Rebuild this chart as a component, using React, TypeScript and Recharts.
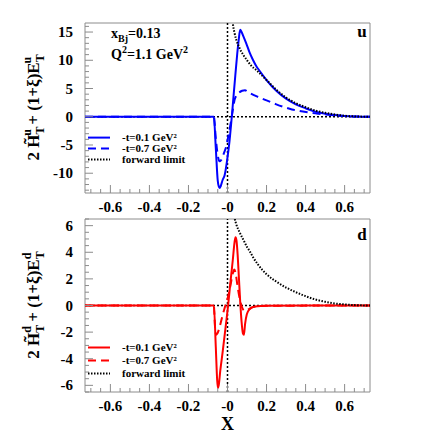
import React from 'react';
import {
  LineChart, Line, XAxis, YAxis, ReferenceLine, ReferenceArea, Legend, Customized, Label,
} from 'recharts';

const SERIF = "'Liberation Serif', 'Times New Roman', serif";
const FRAME = '#8c8c8c';
const X_MIN = -0.73;
const X_MAX = 0.73;

// x axis ticks
const xMajor = [-0.6, -0.4, -0.2, 0, 0.2, 0.4, 0.6];
const xLabels = ['-0.6', '-0.4', '-0.2', '-0', '0.2', '0.4', '0.6'];

// u quark, -t = 0.1 GeV^2
const uSolidX = [-0.73, -0.07, -0.06, -0.05, -0.045, -0.04, -0.035, -0.025, -0.015, -0.002, 0.01, 0.022, 0.032, 0.04, 0.05, 0.058, 0.065, 0.072, 0.082, 0.096, 0.113, 0.13, 0.147, 0.165, 0.2, 0.25, 0.3, 0.35, 0.4, 0.45, 0.5, 0.55, 0.6, 0.65, 0.73];
const uSolidY = [0, 0, -5.5, -11.3, -12.3, -12.6, -12.3, -11.2, -10.4, -7.7, -4.4, 0, 4.1, 7.3, 11.2, 13.8, 15.4, 15.0, 14.2, 13.0, 11.4, 10.1, 9.0, 8.1, 6.5, 4.6, 3.2, 2.2, 1.5, 0.9, 0.55, 0.3, 0.12, 0.04, 0];
// u quark, -t = 0.7 GeV^2
const uDashX = [-0.73, -0.07, -0.06, -0.05, -0.041, -0.033, -0.02, -0.007, 0.005, 0.019, 0.03, 0.036, 0.045, 0.06, 0.075, 0.09, 0.1, 0.12, 0.15, 0.2, 0.25, 0.285, 0.33, 0.37, 0.41, 0.455, 0.5, 0.55, 0.6, 0.65, 0.73];
const uDashY = [0, 0, -3.8, -6.8, -7.9, -7.7, -6.6, -5.3, -3.3, -0.6, 1.8, 2.95, 3.7, 4.3, 4.6, 4.7, 4.5, 4.1, 3.6, 2.9, 2.2, 1.77, 1.3, 1.0, 0.78, 0.58, 0.4, 0.25, 0.12, 0.05, 0];
// u quark, forward limit
const uFwdX = [0.018, 0.027, 0.035, 0.045, 0.055, 0.065, 0.08, 0.1, 0.12, 0.15, 0.2, 0.25, 0.3, 0.35, 0.4, 0.45, 0.5, 0.55, 0.6, 0.65, 0.73];
const uFwdY = [19, 16.5, 15.0, 13.6, 12.7, 11.9, 11.0, 10.0, 9.1, 8.2, 6.5, 4.8, 3.4, 2.4, 1.7, 1.1, 0.7, 0.4, 0.18, 0.06, 0];

// d quark, -t = 0.1 GeV^2
const dSolidX = [-0.73, -0.07, -0.06, -0.053, -0.049, -0.045, -0.037, -0.024, -0.01, 0.002, 0.014, 0.027, 0.036, 0.041, 0.046, 0.052, 0.058, 0.065, 0.072, 0.079, 0.084, 0.09, 0.099, 0.113, 0.14, 0.2, 0.73];
const dSolidY = [0, 0, -3.1, -5.6, -6.2, -6.0, -4.9, -3.4, -1.66, -0.15, 1.6, 3.4, 4.75, 5.13, 4.9, 3.8, 2.2, 0.3, -1.2, -2.1, -2.2, -1.4, -0.66, -0.28, -0.08, -0.02, 0];
// d quark, -t = 0.7 GeV^2
const dDashX = [-0.73, -0.07, -0.064, -0.058, -0.052, -0.041, -0.028, -0.015, 0, 0.015, 0.027, 0.035, 0.042, 0.05, 0.06, 0.07, 0.08, 0.09, 0.1, 0.12, 0.15, 0.2, 0.73];
const dDashY = [0, 0, -1.6, -2.2, -2.1, -1.66, -0.9, -0.2, 0.5, 1.5, 2.4, 2.7, 2.4, 1.6, 0.7, 0.05, -0.3, -0.4, -0.35, -0.18, -0.07, -0.02, 0];
// d quark, forward limit
const dFwdX = [0.028, 0.036, 0.045, 0.062, 0.079, 0.1, 0.113, 0.13, 0.155, 0.2, 0.25, 0.3, 0.35, 0.4, 0.45, 0.5, 0.55, 0.6, 0.65, 0.73];
const dFwdY = [7.4, 6.6, 6.1, 5.5, 5.0, 4.4, 4.1, 3.65, 3.1, 2.35, 1.8, 1.35, 1.0, 0.7, 0.45, 0.28, 0.15, 0.08, 0.03, 0];

const uMajor = [-10, -5, 0, 5, 10, 15];
const dMajor = [-6, -4, -2, 0, 2, 4, 6];

const zip = (xs: number[], ys: number[]) => xs.map((x, i) => ({ x, y: ys[i] }));
const steps = (from: number, to: number, step: number) => {
  const out: number[] = [];
  for (let v = from; v <= to + 1e-9; v += step) out.push(Math.round(v * 100) / 100);
  return out;
};

const xTicks = steps(-0.7, 0.7, 0.05);

// tick marks point into the plot, ROOT style; labels only on the majors
const makeXTick = (axisY: number) => (props: any) => {
  const { x, payload } = props;
  const v = Math.round(payload.value * 100) / 100;
  const i = xMajor.indexOf(v);
  return (
    <g>
      <line x1={x} x2={x} y1={axisY} y2={axisY - (i >= 0 ? 8 : 4)} stroke={FRAME} />
      {i >= 0 && (
        <text x={x} y={axisY + 19} textAnchor="middle" fontFamily={SERIF} fontWeight="bold" fontSize={15} fill="#000">
          {xLabels[i]}
        </text>
      )}
    </g>
  );
};

const makeYTick = (majors: number[]) => (props: any) => {
  const { y, payload } = props;
  const v = Math.round(payload.value * 100) / 100;
  const major = majors.includes(v);
  return (
    <g>
      <line x1={85} x2={85 + (major ? 8 : 4)} y1={y} y2={y} stroke={FRAME} />
      {major && (
        <text x={73} y={y + 5} textAnchor="end" fontFamily={SERIF} fontWeight="bold" fontSize={15} fill="#000">
          {v}
        </text>
      )}
    </g>
  );
};

const makeLegend = (rowH: number, textLeft: number) => (props: any) => {
  const items = props.payload ?? [];
  return (
    <div style={{ fontFamily: SERIF, fontWeight: 'bold', fontSize: 11, color: '#000' }}>
      {items.map((it: any) => (
        <div key={it.value} style={{ display: 'flex', alignItems: 'center', height: rowH }}>
          <svg width={textLeft} height={rowH} style={{ flex: 'none' }}>
            <line x1={0} x2={22} y1={rowH / 2} y2={rowH / 2} stroke={it.color}
              strokeWidth={2} strokeDasharray={it.payload?.strokeDasharray} />
          </svg>
          <span style={{ whiteSpace: 'nowrap' }}>{it.value}</span>
        </div>
      ))}
    </div>
  );
};

const YTitle = ({ cx, cy, q }: { cx: number; cy: number; q: string }) => (
  <text x={cx} y={cy} transform={`rotate(-90 ${cx} ${cy})`} textAnchor="middle"
    fontFamily={SERIF} fontWeight="bold" fontSize={17} fill="#000">
    <tspan>2 H&#771;</tspan>
    <tspan fontSize={12} dy={5}>T</tspan>
    <tspan fontSize={12} dx={-8} dy={-13}>{q}</tspan>
    <tspan dy={8}> + (1+ξ)E</tspan>
    <tspan fontSize={12} dy={5}>T</tspan>
    <tspan fontSize={12} dx={-8} dy={-13}>{q}</tspan>
  </text>
);

interface PanelProps {
  solid: { x: number; y: number }[];
  dashed: { x: number; y: number }[];
  forward: { x: number; y: number }[];
  color: string;
  yDomain: [number, number];
  yMajor: number[];
  yMinorStep: number;
  flavor: string;
  height: number;
  marginTop: number;
  xAxisHeight: number;
  legendTop: number;
  legendRow: number;
  titleY: number;
  flavorY: number;
  showX?: boolean;
  extra?: React.ReactNode;
}

function Panel(p: PanelProps) {
  const yTicks = steps(Math.ceil(p.yDomain[0] / p.yMinorStep) * p.yMinorStep, p.yDomain[1], p.yMinorStep);
  const axisY = p.height - p.xAxisHeight;
  const XTick = makeXTick(axisY);
  return (
    <LineChart width={436} height={p.height} margin={{ top: p.marginTop, right: 66, left: 0, bottom: 0 }}>
      <XAxis dataKey="x" type="number" domain={[X_MIN, X_MAX]} allowDataOverflow ticks={xTicks}
        interval={0} tickSize={0} tickMargin={0} tickLine={false} axisLine={false}
        height={p.xAxisHeight} tick={<XTick />}>
        {p.showX && (
          <Label value="X" position="insideBottom" offset={6} fontSize={18} fontWeight="bold"
            fontFamily={SERIF} fill="#000" />
        )}
      </XAxis>
      <YAxis dataKey="y" type="number" domain={p.yDomain} allowDataOverflow ticks={yTicks}
        interval={0} tickSize={0} tickMargin={0} tickLine={false} axisLine={false}
        width={85} tick={makeYTick(p.yMajor)} />
      <ReferenceArea x1={X_MIN} x2={X_MAX} y1={p.yDomain[0]} y2={p.yDomain[1]}
        fill="none" stroke={FRAME} strokeWidth={1} />
      <ReferenceLine y={0} stroke="#000" strokeWidth={1.5} strokeDasharray="2 2" />
      <ReferenceLine x={0} stroke="#000" strokeWidth={1.5} strokeDasharray="2 2" />
      <Line data={p.solid} dataKey="y" name="-t=0.1 GeV²" type="monotone" stroke={p.color}
        strokeWidth={2} dot={false} isAnimationActive={false} />
      <Line data={p.dashed} dataKey="y" name="-t=0.7 GeV²" type="monotone" stroke={p.color}
        strokeWidth={2} strokeDasharray="8 5" dot={false} isAnimationActive={false} />
      <Line data={p.forward} dataKey="y" name="forward limit" type="monotone" stroke="#000"
        strokeWidth={2} strokeDasharray="1.5 1.5" dot={false} isAnimationActive={false} />
      <Legend layout="vertical" align="center" verticalAlign="middle"
        wrapperStyle={{ top: p.legendTop, left: 88, width: 170 }}
        content={makeLegend(p.legendRow, 34)} />
      <Customized component={() => (
        <g>
          <YTitle cx={39} cy={p.titleY} q={p.flavor} />
          <text x={362} y={p.flavorY} textAnchor="middle" fontFamily={SERIF} fontWeight="bold"
            fontSize={17} fill="#000">{p.flavor}</text>
          {p.extra}
        </g>
      )} />
    </LineChart>
  );
}

const kinematics = (
  <g fontFamily={SERIF} fontWeight="bold" fill="#000">
    <text x={111} y={38} fontSize={14}>
      <tspan>x</tspan>
      <tspan fontSize={10} dy={4}>Bj</tspan>
      <tspan dy={-4}>=0.13</tspan>
    </text>
    <text x={111} y={59} fontSize={14}>
      <tspan>Q</tspan>
      <tspan fontSize={10} dy={-6}>2</tspan>
      <tspan dy={6}>=1.1 GeV</tspan>
      <tspan fontSize={10} dy={-6}>2</tspan>
    </text>
  </g>
);

export default function App() {
  return (
    <div style={{ position: 'absolute', left: 0, top: 0, width: 436, height: 436, background: '#fff' }}>
      <div style={{ position: 'absolute', left: 0, top: 0 }}>
        <Panel solid={zip(uSolidX, uSolidY)} dashed={zip(uDashX, uDashY)} forward={zip(uFwdX, uFwdY)}
          color="#0000ff" yDomain={[-13.5, 16.6]} yMajor={uMajor} yMinorStep={1} flavor="u"
          height={215} marginTop={23} xAxisHeight={22} legendTop={131.5} legendRow={11.2}
          titleY={108} flavorY={37} extra={kinematics} />
      </div>
      <div style={{ position: 'absolute', left: 0, top: 215 }}>
        <Panel solid={zip(dSolidX, dSolidY)} dashed={zip(dDashX, dDashY)} forward={zip(dFwdX, dFwdY)}
          color="#ff0000" yDomain={[-6.5, 6.5]} yMajor={dMajor} yMinorStep={0.5} flavor="d"
          height={221} marginTop={4} xAxisHeight={44} legendTop={125.5} legendRow={13}
          titleY={90} flavorY={25} showX />
      </div>
    </div>
  );
}
